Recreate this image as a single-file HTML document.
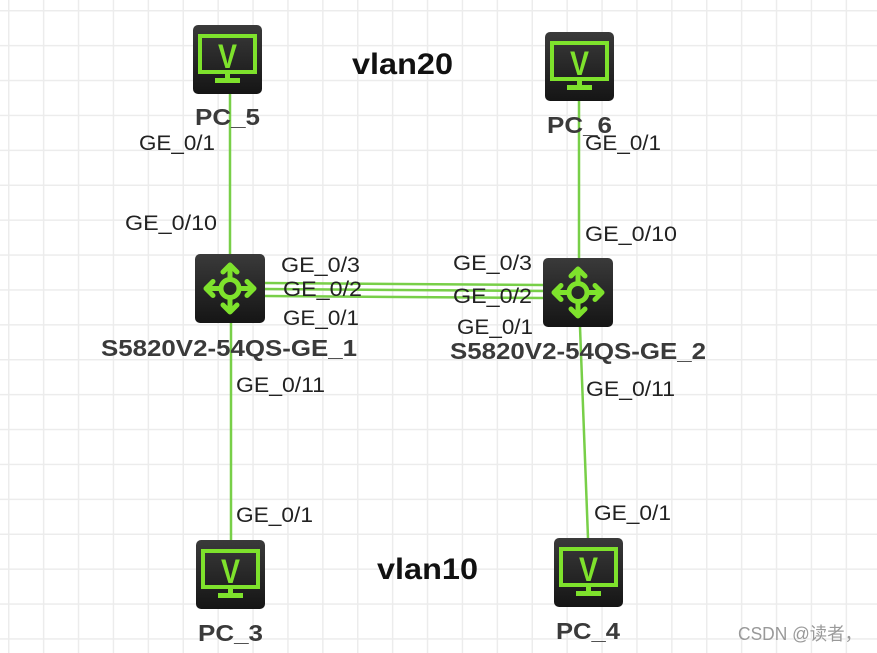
<!DOCTYPE html>
<html><head><meta charset="utf-8"><style>
html,body{margin:0;padding:0;background:#fff;}
svg{display:block;}
text{font-family:"Liberation Sans",Arial,sans-serif;}
</style></head><body>
<svg width="877" height="653" viewBox="0 0 877 653" xmlns="http://www.w3.org/2000/svg">
<defs>
<pattern id="g" x="8" y="10" width="34.9" height="34.9" patternUnits="userSpaceOnUse">
<path d="M0 0V34.9M0 0H34.9" stroke="#ececec" stroke-width="3" fill="none"/>
</pattern>
<linearGradient id="bg" x1="0" y1="0" x2="0" y2="1"><stop offset="0" stop-color="#3a3a3a"/><stop offset="1" stop-color="#151515"/></linearGradient>
<g id="pc">
<rect x="0" y="0" width="69" height="69" rx="5" fill="url(#bg)"/>
<rect x="7" y="11" width="55" height="36" fill="none" stroke="#7ee22c" stroke-width="4"/>
<text x="25" y="43" font-size="34" font-weight="bold" fill="#7ee22c" textLength="19" lengthAdjust="spacingAndGlyphs">V</text>
<rect x="32" y="47" width="5" height="6" fill="#7ee22c"/>
<rect x="22" y="53" width="25" height="5" fill="#7ee22c"/>
</g>
<g id="sw">
<rect x="0" y="0" width="70" height="69" rx="5" fill="url(#bg)"/>
<g stroke="#7ee22c" stroke-width="5" fill="none" stroke-linecap="round" stroke-linejoin="round">
<circle cx="35" cy="34.5" r="9"/>
<path d="M35 25.5V11M28 18l7-7 7 7M35 43.5V58M28 51l7 7 7-7M26 34.5H11M18 27.5l-7 7 7 7M44 34.5H59M52 27.5l7 7-7 7"/>
</g>
</g>
</defs>
<rect width="877" height="653" fill="url(#g)"/>
<g stroke="#78cf48" stroke-width="2.5" fill="none">
<line x1="230" y1="94" x2="230" y2="254"/>
<line x1="231" y1="322" x2="231" y2="540"/>
<line x1="579" y1="101" x2="579" y2="258"/>
<line x1="580" y1="327" x2="588" y2="538"/>
<line x1="265" y1="283" x2="543" y2="285"/>
<line x1="265" y1="289" x2="543" y2="291"/>
<line x1="265" y1="296" x2="543" y2="298"/>
</g>
<use href="#pc" x="193" y="25"/>
<use href="#pc" x="545" y="32"/>
<use href="#pc" x="196" y="540"/>
<use href="#pc" x="554" y="538"/>
<use href="#sw" x="195" y="254"/>
<use href="#sw" x="543" y="258"/>
<g font-size="21" fill="#222">
<text x="139" y="150" textLength="76" lengthAdjust="spacingAndGlyphs">GE_0/1</text>
<text x="125" y="230" textLength="92" lengthAdjust="spacingAndGlyphs">GE_0/10</text>
<text x="585" y="150" textLength="76" lengthAdjust="spacingAndGlyphs">GE_0/1</text>
<text x="585" y="241" textLength="92" lengthAdjust="spacingAndGlyphs">GE_0/10</text>
<text x="281" y="272" textLength="79" lengthAdjust="spacingAndGlyphs">GE_0/3</text>
<text x="283" y="296" textLength="79" lengthAdjust="spacingAndGlyphs">GE_0/2</text>
<text x="283" y="325" textLength="76" lengthAdjust="spacingAndGlyphs">GE_0/1</text>
<text x="453" y="270" textLength="79" lengthAdjust="spacingAndGlyphs">GE_0/3</text>
<text x="453" y="303" textLength="79" lengthAdjust="spacingAndGlyphs">GE_0/2</text>
<text x="457" y="334" textLength="76" lengthAdjust="spacingAndGlyphs">GE_0/1</text>
<text x="236" y="392" textLength="89" lengthAdjust="spacingAndGlyphs">GE_0/11</text>
<text x="586" y="396" textLength="89" lengthAdjust="spacingAndGlyphs">GE_0/11</text>
<text x="236" y="522" textLength="77" lengthAdjust="spacingAndGlyphs">GE_0/1</text>
<text x="594" y="520" textLength="77" lengthAdjust="spacingAndGlyphs">GE_0/1</text>
</g>
<g font-size="23" font-weight="bold" fill="#3a3a3a">
<text x="195" y="125" textLength="65" lengthAdjust="spacingAndGlyphs">PC_5</text>
<text x="547" y="133" textLength="65" lengthAdjust="spacingAndGlyphs">PC_6</text>
<text x="198" y="641" textLength="65" lengthAdjust="spacingAndGlyphs">PC_3</text>
<text x="556" y="639" textLength="64" lengthAdjust="spacingAndGlyphs">PC_4</text>
<text x="101" y="356" textLength="256" lengthAdjust="spacingAndGlyphs">S5820V2-54QS-GE_1</text>
<text x="450" y="359" textLength="256" lengthAdjust="spacingAndGlyphs">S5820V2-54QS-GE_2</text>
</g>
<g font-size="30" font-weight="bold" fill="#111">
<text x="352" y="74" textLength="101" lengthAdjust="spacingAndGlyphs">vlan20</text>
<text x="377" y="579" textLength="101" lengthAdjust="spacingAndGlyphs">vlan10</text>
</g>
<text x="738" y="640" font-size="18" fill="#999" textLength="124" lengthAdjust="spacingAndGlyphs" style="font-family:'Liberation Sans','Noto Sans CJK SC',sans-serif">CSDN @读者，</text>
</svg>
</body></html>
